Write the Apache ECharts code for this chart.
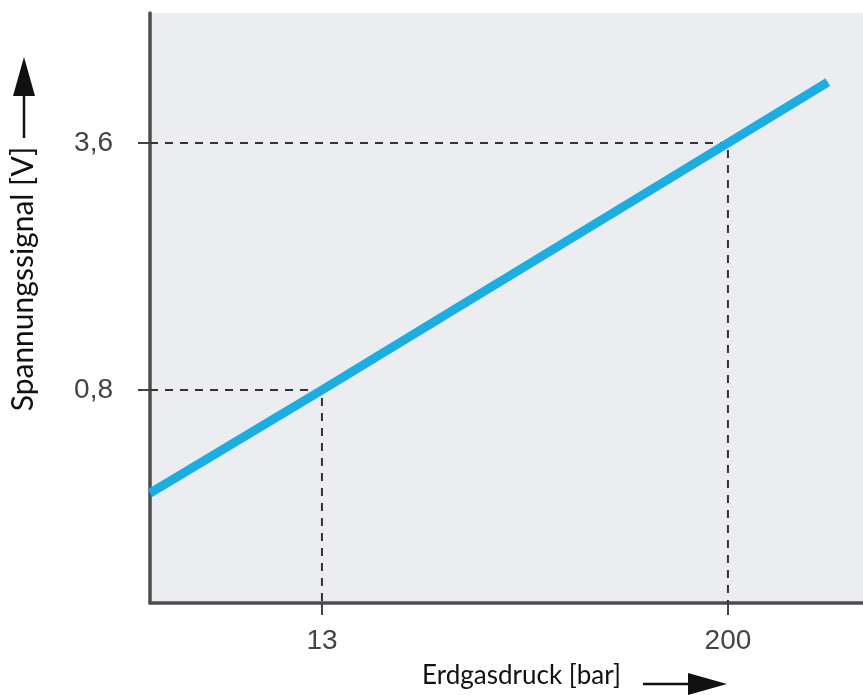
<!DOCTYPE html>
<html>
<head>
<meta charset="utf-8">
<script src="https://cdn.jsdelivr.net/npm/echarts@6/dist/echarts.min.js"></script>
<style>
  html, body { margin: 0; padding: 0; background: #ffffff; }
  #main { width: 863px; height: 695px; }
</style>
</head>
<body>
<div id="main"></div>
<script>
// values
var xTicks = [13, 200];
var yTicks = [0.8, 3.6];
// signal line: pressure [bar] -> voltage [V]
var linePressure = [-66.2, 13, 200, 246];
var lineVoltage = [-0.37, 0.8, 3.6, 4.29];

var xMin = -66.2, xMax = 262.2;
var yMin = -1.615, yMax = 5.074;

var chart = echarts.init(document.getElementById('main'), null, { renderer: 'canvas' });

var lineData = linePressure.map(function (p, i) { return [p, lineVoltage[i]]; });

// dashed guides: from the y axis to the point and down to the x axis
var guides = xTicks.map(function (x, i) {
  return [[xMin, yTicks[i]], [x, yTicks[i]], [x, yMin]];
});

var option = {
  backgroundColor: '#ffffff',
  animation: false,
  grid: {
    left: 150, right: 0, top: 13, bottom: 92,
    containLabel: false, outerBoundsMode: 'none',
    show: true, backgroundColor: '#ebedf1', borderWidth: 0
  },
  xAxis: {
    type: 'value', min: xMin, max: xMax,
    splitLine: { show: false },
    axisLine: { onZero: false, lineStyle: { color: '#4d4d4d', width: 3.5 } },
    axisTick: { customValues: xTicks, length: 12, lineStyle: { color: '#444', width: 2 } },
    axisLabel: {
      customValues: xTicks, margin: 24,
      color: '#444', fontSize: 28, fontFamily: 'Liberation Sans'
    },
    name: 'Erdgasdruck [bar]', nameLocation: 'middle', nameGap: 60,
    nameTextStyle: {
      color: '#111', fontSize: 26, fontFamily: 'Lato',
      padding: [0, 0, 0, 30]
    }
  },
  yAxis: {
    type: 'value', min: yMin, max: yMax,
    splitLine: { show: false },
    axisLine: { onZero: false, lineStyle: { color: '#4d4d4d', width: 3.5 } },
    axisTick: { customValues: yTicks, length: 12, lineStyle: { color: '#444', width: 2 } },
    axisLabel: {
      customValues: yTicks, margin: 37,
      color: '#444', fontSize: 28, fontFamily: 'Liberation Sans',
      formatter: function (v) { return v.toFixed(1).replace('.', ','); }
    },
    name: 'Spannungssignal [V]', nameLocation: 'middle', nameGap: 112, nameRotate: 90,
    nameTextStyle: {
      color: '#111', fontSize: 30, fontFamily: 'Lato',
      padding: [0, 0, 0, 58]
    }
  },
  graphic: [
    // arrow after x axis name
    { type: 'line', shape: { x1: 643, y1: 684, x2: 692, y2: 684 }, style: { stroke: '#111', lineWidth: 2.5 } },
    { type: 'polygon', shape: { points: [[727, 684], [688, 673], [688, 695]] }, style: { fill: '#111' } },
    // arrow above y axis name
    { type: 'line', shape: { x1: 24, y1: 138, x2: 24, y2: 92 }, style: { stroke: '#111', lineWidth: 2.5 } },
    { type: 'polygon', shape: { points: [[24, 57], [13, 96], [35, 96]] }, style: { fill: '#111' } }
  ],
  series: guides.map(function (g) {
    return {
      type: 'line', data: g, symbol: 'none', silent: true, z: 2,
      lineStyle: { color: '#333', width: 2, type: [8, 7] }
    };
  }).concat([{
    type: 'line', data: lineData, symbol: 'none', z: 3,
    lineStyle: { color: '#1cade2', width: 9, cap: 'butt' }
  }])
};

chart.setOption(option);
</script>
</body>
</html>
